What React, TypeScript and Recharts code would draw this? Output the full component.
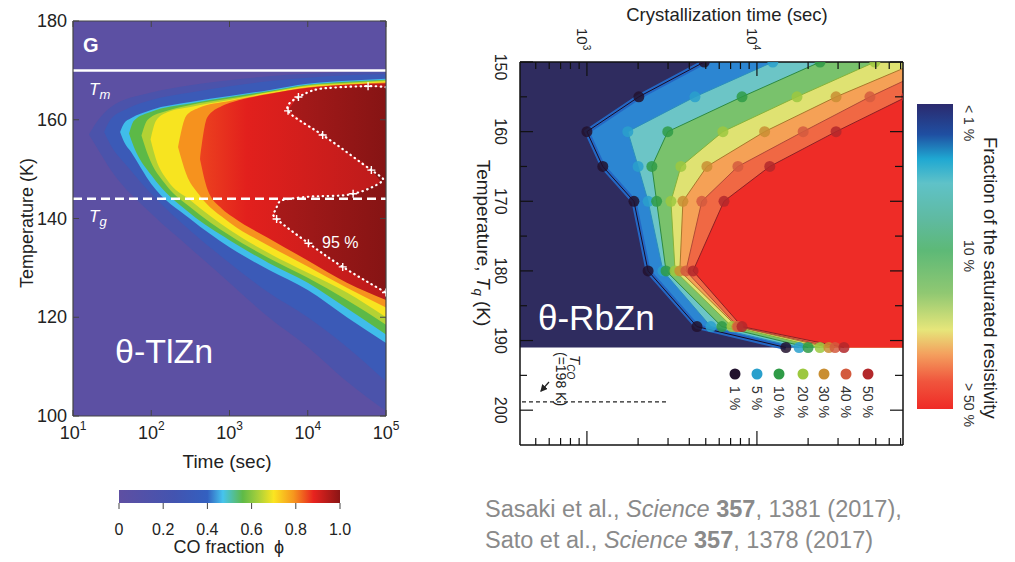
import React from "react";
import {
  Area,
  ComposedChart,
  Line,
  ReferenceArea,
  ReferenceLine,
  XAxis,
  YAxis,
} from "recharts";

const FONT = "'Liberation Sans', Arial, Helvetica, sans-serif";

// ---------- left panel: θ-TlZn, CO fraction map (t in s, T in K) ----------
type Band = { t: number; lo: number; hi: number };

const tlA: Band[] = [
  { t: 16, lo: 157, hi: 157 },
  { t: 20, lo: 154.5, hi: 159.5 },
  { t: 30, lo: 150, hi: 162.5 },
  { t: 100, lo: 141, hi: 165.5 },
  { t: 316, lo: 134, hi: 167 },
  { t: 1000, lo: 127, hi: 168 },
  { t: 3160, lo: 120, hi: 168.8 },
  { t: 10000, lo: 114, hi: 169.3 },
  { t: 31600, lo: 107, hi: 169.6 },
  { t: 100000, lo: 101, hi: 169.8 },
];
const tlB: Band[] = [
  { t: 25, lo: 157.5, hi: 157.5 },
  { t: 30, lo: 155, hi: 160 },
  { t: 50, lo: 150.5, hi: 162.3 },
  { t: 100, lo: 145, hi: 164 },
  { t: 316, lo: 137.5, hi: 165.5 },
  { t: 1000, lo: 131, hi: 166.8 },
  { t: 3160, lo: 125, hi: 167.8 },
  { t: 10000, lo: 120, hi: 168.5 },
  { t: 31600, lo: 114, hi: 169 },
  { t: 100000, lo: 107, hi: 169.2 },
];
const tlCyan: Band[] = [
  { t: 40, lo: 157.5, hi: 157.5 },
  { t: 45, lo: 155.5, hi: 159.3 },
  { t: 55, lo: 153.5, hi: 160.3 },
  { t: 100, lo: 147, hi: 162 },
  { t: 316, lo: 139.9, hi: 163.6 },
  { t: 1000, lo: 134.2, hi: 164.8 },
  { t: 3160, lo: 129.6, hi: 166 },
  { t: 10000, lo: 125.5, hi: 167.3 },
  { t: 31600, lo: 120, hi: 167.9 },
  { t: 100000, lo: 114.8, hi: 168.3 },
];
const tlGreen: Band[] = [
  { t: 52, lo: 157.2, hi: 157.2 },
  { t: 60, lo: 154.5, hi: 159.8 },
  { t: 100, lo: 148.8, hi: 161.6 },
  { t: 316, lo: 141, hi: 163.3 },
  { t: 1000, lo: 135.6, hi: 164.6 },
  { t: 3160, lo: 131, hi: 165.8 },
  { t: 10000, lo: 127, hi: 167.1 },
  { t: 31600, lo: 121.8, hi: 167.7 },
  { t: 100000, lo: 116.5, hi: 168.1 },
];
const tlLime: Band[] = [
  { t: 75, lo: 156.8, hi: 156.8 },
  { t: 90, lo: 153, hi: 160 },
  { t: 160, lo: 146.5, hi: 161.8 },
  { t: 316, lo: 142.3, hi: 163 },
  { t: 1000, lo: 136.6, hi: 164.3 },
  { t: 3160, lo: 132, hi: 165.6 },
  { t: 10000, lo: 128, hi: 167 },
  { t: 31600, lo: 123.5, hi: 167.5 },
  { t: 100000, lo: 118.5, hi: 168 },
];
const tlYellow: Band[] = [
  { t: 98, lo: 156, hi: 156 },
  { t: 115, lo: 152, hi: 159.8 },
  { t: 160, lo: 147.8, hi: 161.5 },
  { t: 316, lo: 143.7, hi: 162.6 },
  { t: 1000, lo: 137.7, hi: 164 },
  { t: 3160, lo: 133, hi: 165.5 },
  { t: 10000, lo: 129, hi: 166.8 },
  { t: 31600, lo: 125, hi: 167.3 },
  { t: 100000, lo: 120, hi: 167.8 },
];
const tlOrange: Band[] = [
  { t: 220, lo: 154.5, hi: 154.5 },
  { t: 280, lo: 149, hi: 160.8 },
  { t: 400, lo: 145, hi: 162.4 },
  { t: 1000, lo: 139.2, hi: 163.8 },
  { t: 3160, lo: 134.5, hi: 165.3 },
  { t: 10000, lo: 130.3, hi: 166.6 },
  { t: 31600, lo: 126, hi: 167.2 },
  { t: 100000, lo: 122, hi: 167.6 },
];
const tlRed: Band[] = [
  { t: 420, lo: 152, hi: 152 },
  { t: 520, lo: 146, hi: 160.5 },
  { t: 800, lo: 142, hi: 162.8 },
  { t: 1100, lo: 140.3, hi: 163.6 },
  { t: 3160, lo: 136, hi: 165.2 },
  { t: 10000, lo: 131.5, hi: 166.5 },
  { t: 31600, lo: 127, hi: 167.1 },
  { t: 100000, lo: 123.5, hi: 167.4 },
];
// inside of the 95 % contour, upper and lower lobe
const tl95Upper: Band[] = [
  { t: 5600, lo: 161.8, hi: 161.8 },
  { t: 7600, lo: 160.4, hi: 164.6 },
  { t: 12000, lo: 158.1, hi: 166 },
  { t: 15500, lo: 156.9, hi: 166.3 },
  { t: 30000, lo: 153.6, hi: 166.5 },
  { t: 65000, lo: 149.8, hi: 166.7 },
  { t: 100000, lo: 146, hi: 166.6 },
];
const tl95Lower: Band[] = [
  { t: 3800, lo: 141, hi: 142 },
  { t: 4300, lo: 139.5, hi: 143.3 },
  { t: 6000, lo: 137.7, hi: 144 },
  { t: 10200, lo: 135, hi: 144.3 },
  { t: 28000, lo: 130.2, hi: 144.8 },
  { t: 38000, lo: 129, hi: 145 },
  { t: 65000, lo: 126.8, hi: 146.5 },
  { t: 87000, lo: 125.6, hi: 147.4 },
  { t: 100000, lo: 125, hi: 148 },
];
const tl95Contour = [
  { t: 100000, T: 166.6 },
  { t: 59000, T: 166.8 },
  { t: 21000, T: 166.5 },
  { t: 12000, T: 166 },
  { t: 7600, T: 164.6 },
  { t: 5600, T: 161.8 },
  { t: 15500, T: 156.9 },
  { t: 65000, T: 149.8 },
  { t: 87000, T: 147.4 },
  { t: 38000, T: 145 },
  { t: 13000, T: 144.5 },
  { t: 6000, T: 144 },
  { t: 4300, T: 143.3 },
  { t: 3800, T: 141.5 },
  { t: 4000, T: 139.9 },
  { t: 10200, T: 135 },
  { t: 28000, T: 130.2 },
  { t: 100000, T: 125 },
];
const tl95Marks = [
  { t: 59000, T: 166.8 },
  { t: 7600, T: 164.6 },
  { t: 5600, T: 161.8 },
  { t: 15500, T: 156.9 },
  { t: 65000, T: 149.8 },
  { t: 38000, T: 145 },
  { t: 4000, T: 139.9 },
  { t: 10200, T: 135 },
  { t: 28000, T: 130.2 },
  { t: 100000, T: 125 },
];
const TL_TM = 170;
const TL_TG = 144;
const tlTimeTicks = [10, 100, 1000, 10000, 100000];
const tlTempTicks = [100, 120, 140, 160, 180];

const tlBands = [
  { id: "a", data: tlA, fill: "#4b53ab" },
  { id: "b", data: tlB, fill: "#3b5ab7" },
  { id: "c", data: tlCyan, fill: "#40bdea" },
  { id: "g", data: tlGreen, fill: "#5cb947" },
  { id: "l", data: tlLime, fill: "#b3d234" },
  { id: "y", data: tlYellow, fill: "#f7e420" },
  { id: "o", data: tlOrange, fill: "#f6921e" },
  { id: "r", data: tlRed, fill: "url(#tlRedGrad)" },
  { id: "u", data: tl95Upper, fill: "url(#tlDarkGrad)" },
  { id: "w", data: tl95Lower, fill: "url(#tlDarkGrad)" },
];

// ---------- right panel: θ-RbZn, crystallization time (s) vs Tq (K) ----------
const rbTemps = [150, 155, 160, 165, 170, 180, 188, 191];
const rb1 = [4900, 2020, 1000, 1240, 1890, 2290, 4440, 14800];
const rb5 = [12400, 4320, 1740, 2000, 2290, 2800, 5360, 17700];
const rb10 = [23500, 8170, 2990, 2410, 2570, 2920, 6220, 20000];
const rb20 = [49400, 17200, 6310, 3570, 3120, 3300, 7130, 23500];
const rb30 = [89000, 29200, 11100, 5080, 3670, 3520, 7620, 26500];
const rb40 = [126000, 46200, 18700, 7730, 4740, 3820, 7730, 28800];
const rb50 = [178000, 75900, 29200, 11900, 6400, 4210, 8170, 32500];
const rbFractions = ["1 %", "5 %", "10 %", "20 %", "30 %", "40 %", "50 %"];
const RB_TMIN = 404;
const RB_TMAX = 72300;
const RB_EDGE = 191;
const RB_TCO = 198.8;
const rbTimeTicks = [
  500, 600, 700, 800, 900, 1000, 2000, 3000, 4000, 5000, 6000, 7000, 8000,
  9000, 10000, 20000, 30000, 40000, 50000, 60000, 70000,
];
const rbTempTicks = [150, 155, 160, 165, 170, 175, 180, 185, 190, 195, 200];

const rbSeries = [rb1, rb5, rb10, rb20, rb30, rb40, rb50];
const rbRows = rbTemps.map((T, i) => {
  const row: Record<string, number> = { T };
  rbSeries.forEach((s, k) => (row[`p${k}`] = s[i]));
  return row;
});

const rbStyle = [
  { dot: "#22122e", line: "#1a0c26", fill: "#2c86d2" },
  { dot: "#2aa0cc", line: "#2a8fbd", fill: "#6cc5c6" },
  { dot: "#2f9b47", line: "#2d8a40", fill: "#79c26c" },
  { dot: "#9cc83f", line: "#86b23a", fill: "#dfe272" },
  { dot: "#c98e32", line: "#a8782c", fill: "#f5a156" },
  { dot: "#d35a3e", line: "#b04a36", fill: "#f06844" },
  { dot: "#b3282b", line: "#8e2024", fill: "#ee2c27" },
];

// ---------- ticks ----------
const TlTimeTick = (p: any) => {
  const { x, y, payload } = p;
  return (
    <g>
      <line x1={x} y1={y} x2={x} y2={y - 6} stroke="#444" />
      <text x={x} y={y + 23} textAnchor="middle" fontSize={18} fill="#222" fontFamily={FONT}>
        10
        <tspan dy={-9} fontSize={12}>
          {Math.round(Math.log10(payload.value))}
        </tspan>
      </text>
    </g>
  );
};
const TlTopTick = (p: any) => (
  <line x1={p.x} y1={p.y} x2={p.x} y2={p.y + 6} stroke="#444" />
);
const TlTempTick = (p: any) => {
  const { x, y, payload } = p;
  return (
    <g>
      <line x1={x} y1={y} x2={x + 6} y2={y} stroke="#444" />
      <text x={x - 6} y={y + 6} textAnchor="end" fontSize={18} fill="#222" fontFamily={FONT}>
        {payload.value}
      </text>
    </g>
  );
};
const TlRightTick = (p: any) => (
  <line x1={p.x} y1={p.y} x2={p.x - 6} y2={p.y} stroke="#444" />
);

const isDecade = (v: number) => v === 1000 || v === 10000;
const RbTopTick = (p: any) => {
  const { x, y, payload } = p;
  const v = payload.value;
  return (
    <g>
      <line x1={x} y1={y} x2={x} y2={y + (isDecade(v) ? 14 : 7)} stroke="#111" strokeWidth={1.2} />
      {isDecade(v) && (
        <text transform={`translate(${x - 10},${y - 34}) rotate(90)`} fontSize={15} fill="#222" fontFamily={FONT}>
          10
          <tspan dy={-6} fontSize={10}>
            {Math.round(Math.log10(v))}
          </tspan>
        </text>
      )}
    </g>
  );
};
const RbBottomTick = (p: any) => (
  <line x1={p.x} y1={p.y} x2={p.x} y2={p.y - (isDecade(p.payload.value) ? 14 : 7)} stroke="#111" strokeWidth={1.2} />
);
const RbLeftTick = (p: any) => {
  const { x, y, payload } = p;
  const v = payload.value;
  const major = v % 10 === 0;
  return (
    <g>
      <line x1={x} y1={y} x2={x + (major ? 13 : 7)} y2={y} stroke="#111" strokeWidth={1.2} />
      {major && (
        <text
          transform={`translate(${x - 25},${y + (v === 150 ? 5 : 0)}) rotate(90)`}
          textAnchor="middle"
          fontSize={16}
          fill="#222"
          fontFamily={FONT}
        >
          {v}
        </text>
      )}
    </g>
  );
};
const RbRightTick = (p: any) => (
  <line x1={p.x} y1={p.y} x2={p.x - (p.payload.value % 10 === 0 ? 13 : 8)} y2={p.y} stroke="#111" strokeWidth={1.2} />
);

const PlusMark = (p: any) => {
  const { cx, cy } = p;
  if (cx == null || cy == null) return <g />;
  return <path d={`M${cx - 4},${cy}h8M${cx},${cy - 4}v8`} stroke="#fff" strokeWidth={1.4} fill="none" />;
};

function TlZnChart() {
  return (
    <ComposedChart width={400} height={480} margin={{ top: 20, right: 13, bottom: 24, left: 23 }}>
      <defs>
        <linearGradient id="tlRedGrad" x1="0" x2="1" y1="0" y2="0">
          <stop offset="0%" stopColor="#ec421f" />
          <stop offset="25%" stopColor="#e2201d" />
          <stop offset="100%" stopColor="#bb1b1b" />
        </linearGradient>
        <linearGradient id="tlDarkGrad" x1="0" x2="1" y1="0" y2="0">
          <stop offset="0%" stopColor="#a81a1a" />
          <stop offset="100%" stopColor="#861414" />
        </linearGradient>
      </defs>
      <ReferenceArea xAxisId="b" yAxisId="l" x1={10} x2={100000} y1={100} y2={180} fill="#5c50a3" fillOpacity={1} stroke="none" />
      {tlBands.map((b) => (
        <Area
          key={b.id}
          xAxisId="b"
          yAxisId="l"
          data={b.data}
          dataKey={(d: Band) => [d.lo, d.hi]}
          type="monotone"
          fill={b.fill}
          fillOpacity={1}
          stroke="none"
          isAnimationActive={false}
        />
      ))}
      <ReferenceLine xAxisId="b" yAxisId="l" y={TL_TM} stroke="#fff" strokeWidth={2.5} />
      <ReferenceLine xAxisId="b" yAxisId="l" y={TL_TG} stroke="#fff" strokeWidth={2.5} strokeDasharray="9 5" />
      <Line
        xAxisId="b"
        yAxisId="l"
        data={tl95Contour}
        dataKey="T"
        type="natural"
        stroke="#fff"
        strokeWidth={2.2}
        strokeDasharray="0.5 4.5"
        strokeLinecap="round"
        dot={false}
        isAnimationActive={false}
      />
      <Line
        xAxisId="b"
        yAxisId="l"
        data={tl95Marks}
        dataKey="T"
        stroke="none"
        dot={PlusMark}
        isAnimationActive={false}
      />
      <XAxis
        xAxisId="b"
        dataKey="t"
        type="number"
        scale="log"
        domain={[10, 100000]}
        allowDataOverflow
        ticks={tlTimeTicks}
        interval={0}
        height={40}
        tickSize={0}
        tickMargin={0}
        tickLine={false}
        axisLine={{ stroke: "#444", strokeWidth: 1.2 }}
        tick={TlTimeTick}
      />
      <XAxis
        xAxisId="top"
        orientation="top"
        dataKey="t"
        type="number"
        scale="log"
        domain={[10, 100000]}
        allowDataOverflow
        ticks={tlTimeTicks}
        interval={0}
        height={1}
        tickSize={0}
        tickMargin={0}
        tickLine={false}
        axisLine={{ stroke: "#444", strokeWidth: 1.2 }}
        tick={TlTopTick}
      />
      <YAxis
        yAxisId="l"
        type="number"
        domain={[100, 180]}
        allowDataOverflow
        ticks={tlTempTicks}
        interval={0}
        width={50}
        tickSize={0}
        tickMargin={0}
        tickLine={false}
        axisLine={{ stroke: "#444", strokeWidth: 1.2 }}
        tick={TlTempTick}
      />
      <YAxis
        yAxisId="r"
        orientation="right"
        type="number"
        domain={[100, 180]}
        allowDataOverflow
        ticks={tlTempTicks}
        interval={0}
        width={1}
        tickSize={0}
        tickMargin={0}
        tickLine={false}
        axisLine={{ stroke: "#444", strokeWidth: 1.2 }}
        tick={TlRightTick}
      />
    </ComposedChart>
  );
}

function RbZnChart() {
  return (
    <ComposedChart
      layout="vertical"
      width={500}
      height={480}
      data={rbRows}
      margin={{ top: 32, right: 32, bottom: 30, left: 40 }}
    >
      <ReferenceArea xAxisId="t" yAxisId="l" x1={RB_TMIN} x2={RB_TMAX} y1={150} y2={RB_EDGE} fill="#2f2c5f" fillOpacity={1} stroke="none" />
      {rbStyle.map((s, k) => (
        <Area
          key={`f${k}`}
          xAxisId="t"
          yAxisId="l"
          dataKey={(d: Record<string, number>) => [d[`p${k}`], RB_TMAX]}
          type="linear"
          fill={s.fill}
          fillOpacity={1}
          stroke={k === 0 ? "#2467c4" : "none"}
          strokeWidth={k === 0 ? 5 : 0}
          isAnimationActive={false}
        />
      ))}
      {rbStyle.map((s, k) => (
        <Line
          key={`l${k}`}
          xAxisId="t"
          yAxisId="l"
          dataKey={`p${k}`}
          type="linear"
          stroke={s.line}
          strokeWidth={1}
          dot={{ r: 5.5, fill: s.dot, stroke: "none", fillOpacity: 0.85 }}
          isAnimationActive={false}
        />
      ))}
      <ReferenceLine
        xAxisId="t"
        yAxisId="l"
        segment={[
          { x: 415, y: RB_TCO },
          { x: 2990, y: RB_TCO },
        ]}
        stroke="#222"
        strokeWidth={1.3}
        strokeDasharray="4 3"
      />
      <XAxis
        xAxisId="t"
        orientation="top"
        type="number"
        scale="log"
        domain={[RB_TMIN, RB_TMAX]}
        allowDataOverflow
        ticks={rbTimeTicks}
        interval={0}
        height={30}
        tickSize={0}
        tickMargin={0}
        tickLine={false}
        axisLine={{ stroke: "#111", strokeWidth: 1.5 }}
        tick={RbTopTick}
      />
      <XAxis
        xAxisId="b"
        orientation="bottom"
        type="number"
        scale="log"
        domain={[RB_TMIN, RB_TMAX]}
        allowDataOverflow
        ticks={rbTimeTicks}
        interval={0}
        height={5}
        tickSize={0}
        tickMargin={0}
        tickLine={false}
        axisLine={{ stroke: "#111", strokeWidth: 1.5 }}
        tick={RbBottomTick}
      />
      <YAxis
        yAxisId="l"
        dataKey="T"
        type="number"
        domain={[150, 205]}
        allowDataOverflow
        ticks={rbTempTicks}
        interval={0}
        width={40}
        tickSize={0}
        tickMargin={0}
        tickLine={false}
        axisLine={{ stroke: "#111", strokeWidth: 1.5 }}
        tick={RbLeftTick}
      />
      <YAxis
        yAxisId="r"
        orientation="right"
        dataKey="T"
        type="number"
        domain={[150, 205]}
        allowDataOverflow
        ticks={rbTempTicks}
        interval={0}
        width={5}
        tickSize={0}
        tickMargin={0}
        tickLine={false}
        axisLine={{ stroke: "#111", strokeWidth: 1.5 }}
        tick={RbRightTick}
      />
    </ComposedChart>
  );
}

function Overlay() {
  const legendX = [735, 757, 779, 803, 824, 846, 868];
  const cbTicks = [0, 0.2, 0.4, 0.6, 0.8, 1.0];
  return (
    <svg width={1015} height={562} style={{ position: "absolute", left: 0, top: 0, pointerEvents: "none" }} fontFamily={FONT}>
      <defs>
        <linearGradient id="coBar" x1="0" x2="1" y1="0" y2="0">
          <stop offset="0%" stopColor="#5e4fa2" />
          <stop offset="25%" stopColor="#4354b0" />
          <stop offset="40%" stopColor="#3360c0" />
          <stop offset="47%" stopColor="#46c4ee" />
          <stop offset="56%" stopColor="#5fba47" />
          <stop offset="63%" stopColor="#a8d03b" />
          <stop offset="70%" stopColor="#fbe521" />
          <stop offset="79%" stopColor="#f6961e" />
          <stop offset="88%" stopColor="#e8231f" />
          <stop offset="100%" stopColor="#8a1515" />
        </linearGradient>
        <linearGradient id="resBar" x1="0" x2="0" y1="0" y2="1">
          <stop offset="0%" stopColor="#2b2a6e" />
          <stop offset="10%" stopColor="#1f4fa2" />
          <stop offset="18%" stopColor="#1fa8d2" />
          <stop offset="26%" stopColor="#5fc2c8" />
          <stop offset="38%" stopColor="#5fbaa0" />
          <stop offset="48%" stopColor="#5db977" />
          <stop offset="62%" stopColor="#90c872" />
          <stop offset="74%" stopColor="#e6e67a" />
          <stop offset="82%" stopColor="#f4a05e" />
          <stop offset="91%" stopColor="#f0553d" />
          <stop offset="100%" stopColor="#ef2b26" />
        </linearGradient>
        <marker id="arrowHead" markerWidth="6" markerHeight="6" refX="5" refY="3" orient="auto">
          <path d="M0,0 L6,3 L0,6 z" fill="#222" />
        </marker>
      </defs>

      {/* left panel annotations */}
      <text x={83} y={52} fontSize={20} fontWeight="bold" fill="#fff">G</text>
      <text x={89} y={95} fontSize={17} fontStyle="italic" fill="#fff">
        T<tspan dy={4} fontSize={13}>m</tspan>
      </text>
      <text x={89} y={222} fontSize={17} fontStyle="italic" fill="#fff">
        T<tspan dy={4} fontSize={13}>g</tspan>
      </text>
      <text x={322} y={248} fontSize={16} fill="#fff">95 %</text>
      <text x={115} y={363} fontSize={34} fill="#fff">θ-TlZn</text>
      <text x={227} y={468} fontSize={19} fill="#222" textAnchor="middle">Time (sec)</text>
      <text transform="translate(33,223) rotate(-90)" fontSize={18} fill="#222" textAnchor="middle">
        Temperature (K)
      </text>

      {/* CO fraction colour bar */}
      <rect x={119} y={490} width={221} height={13} fill="url(#coBar)" />
      {cbTicks.map((v) => (
        <g key={v}>
          <line x1={119 + v * 221} y1={503} x2={119 + v * 221} y2={509} stroke="#444" />
          <text x={119 + v * 221} y={535} fontSize={16} fill="#222" textAnchor="middle">
            {v === 0 ? "0" : v.toFixed(1)}
          </text>
        </g>
      ))}
      <text x={219} y={553} fontSize={18} fill="#222" textAnchor="middle">CO fraction</text>
      <text x={279} y={553} fontSize={18} fill="#222" textAnchor="middle">ϕ</text>

      {/* right panel annotations */}
      <text x={727} y={21} fontSize={18.5} fill="#222" textAnchor="middle">Crystallization time (sec)</text>
      <text transform="translate(477,243) rotate(90)" fontSize={19} fill="#222" textAnchor="middle">
        Temperature, <tspan fontStyle="italic">T</tspan>
        <tspan fontStyle="italic" fontSize={13} dy={3}>q</tspan>
        <tspan dy={-3}> (K)</tspan>
      </text>
      <text x={538} y={330} fontSize={35} fill="#fff">θ-RbZn</text>
      <text transform="translate(570,355) rotate(90)" fontSize={15} fontStyle="italic" fill="#222">
        T<tspan dy={3} fontSize={10}>CO</tspan>
      </text>
      <text transform="translate(556,352) rotate(90)" fontSize={14} fill="#222">(=198 K)</text>
      <line x1={549} y1={382} x2={541} y2={391} stroke="#222" strokeWidth={1.2} markerEnd="url(#arrowHead)" />
      {legendX.map((x, k) => (
        <g key={k}>
          <circle cx={x} cy={374} r={5.5} fill={rbStyle[k].dot} />
          <text transform={`translate(${x - 5},386) rotate(90)`} fontSize={14} fill="#333">
            {rbFractions[k]}
          </text>
        </g>
      ))}

      {/* resistivity colour bar */}
      <rect x={917} y={104} width={36} height={305} fill="url(#resBar)" />
      <text transform="translate(964,105) rotate(90)" fontSize={14} fill="#333">&lt; 1 %</text>
      <text transform="translate(964,240) rotate(90)" fontSize={14} fill="#333">10 %</text>
      <text transform="translate(964,383) rotate(90)" fontSize={14} fill="#333">&gt; 50 %</text>
      <text transform="translate(984,137) rotate(90)" fontSize={18.5} fill="#222">
        Fraction of the saturated resistivity
      </text>

      {/* citation */}
      <text x={485} y={517} fontSize={23.5} fill="#8a8a8a">
        Sasaki et al., <tspan fontStyle="italic">Science</tspan>{" "}
        <tspan fontWeight="bold">357</tspan>, 1381 (2017),
      </text>
      <text x={485} y={548} fontSize={23.5} fill="#8a8a8a">
        Sato et al., <tspan fontStyle="italic">Science</tspan>{" "}
        <tspan fontWeight="bold">357</tspan>, 1378 (2017)
      </text>
    </svg>
  );
}

export default function App() {
  return (
    <div
      style={{
        position: "absolute",
        left: 0,
        top: 0,
        width: 1015,
        height: 562,
        background: "#fff",
        overflow: "hidden",
        fontFamily: FONT,
      }}
    >
      <div style={{ position: "absolute", left: 0, top: 0 }}>
        <TlZnChart />
      </div>
      <div style={{ position: "absolute", left: 440, top: 0 }}>
        <RbZnChart />
      </div>
      <Overlay />
    </div>
  );
}
